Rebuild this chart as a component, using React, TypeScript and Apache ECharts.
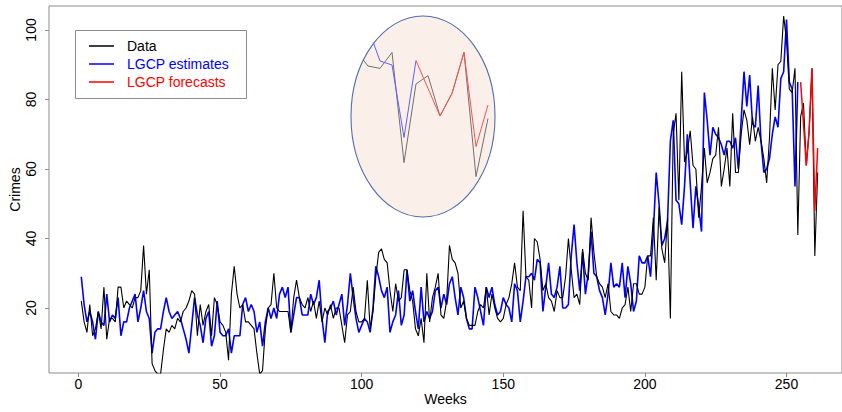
import React, { useEffect, useRef } from "react";
import * as echarts from "echarts";

// Weekly crime counts (weeks 1..261)
const dataValues = [
  22, 16, 13, 21, 12, 14, 19, 14, 26, 11,
  17, 17, 16, 26, 26, 20, 22, 21, 20, 23,
  23, 25, 38, 24, 31, 4, 2, 1, 1, 8,
  14, 13, 15, 14, 17, 16, 19, 20, 22, 25,
  24, 12, 21, 15, 19, 21, 12, 23, 21, 16,
  15, 13, 5, 24, 32, 24, 20, 21, 16, 16,
  15, 14, 7, 1, 2, 14, 20, 21, 30, 20,
  19, 19, 19, 19, 13, 23, 28, 23, 21, 20,
  23, 19, 22, 17, 22, 16, 20, 18, 21, 17,
  20, 20, 15, 10, 18, 19, 26, 19, 16, 16,
  17, 28, 14, 19, 29, 36, 37, 34, 33, 25,
  19, 27, 22, 23, 31, 31, 25, 22, 14, 12,
  17, 10, 30, 16, 23, 26, 30, 18, 17, 22,
  38, 34, 33, 30, 20, 22, 17, 15, 15, 15,
  19, 21, 20, 26, 18, 24, 20, 17, 16, 17,
  21, 23, 27, 33, 26, 25, 48, 29, 28, 20,
  40, 39, 34, 25, 27, 23, 22, 19, 25, 23,
  23, 29, 40, 31, 23, 24, 21, 37, 30, 28,
  46, 36, 29, 27, 26, 23, 27, 19, 18, 18,
  17, 20, 21, 26, 19, 27, 27, 24, 24, 26,
  35, 35, 46, 28, 49, 37, 33, 46, 17, 70,
  76, 51, 88, 62, 65, 71, 61, 60, 46, 55,
  66, 56, 59, 63, 64, 72, 55, 60, 66, 55,
  76, 59, 59, 70, 77, 74, 67, 75, 68, 72,
  68, 63, 56, 69, 89, 77, 90, 91, 104, 97,
  83, 82, 89, 41, 75, 79, 61, 71, 89, 35,
  59,
];

// LGCP estimates (weeks 1..255)
const estimateValues = [
  29, 21, 16, 19, 16, 11, 19, 16, 15, 24,
  16, 18, 17, 23, 12, 16, 16, 20, 22, 24,
  16, 20, 25, 19, 17, 7, 13, 14, 14, 19,
  23, 19, 17, 18, 19, 17, 14, 11, 7, 15,
  23, 18, 15, 10, 17, 19, 9, 12, 22, 13,
  12, 12, 14, 7, 12, 12, 12, 21, 23, 19,
  21, 19, 13, 16, 9, 16, 20, 17, 20, 17,
  24, 26, 23, 26, 13, 18, 23, 23, 18, 18,
  18, 24, 21, 23, 28, 17, 10, 19, 20, 22,
  18, 21, 24, 15, 21, 30, 23, 17, 13, 15,
  17, 16, 13, 20, 32, 29, 25, 23, 26, 13,
  16, 18, 25, 15, 18, 31, 22, 25, 19, 14,
  26, 16, 19, 17, 19, 25, 26, 20, 24, 21,
  27, 29, 23, 18, 26, 23, 17, 14, 14, 26,
  23, 19, 15, 26, 23, 26, 21, 18, 19, 23,
  21, 20, 16, 27, 25, 16, 22, 29, 29, 30,
  28, 34, 33, 19, 26, 33, 24, 23, 26, 32,
  20, 20, 21, 35, 44, 33, 25, 36, 24, 30,
  42, 30, 29, 25, 23, 18, 24, 33, 26, 27,
  26, 33, 23, 32, 27, 19, 22, 35, 33, 33,
  35, 29, 42, 59, 50, 38, 40, 45, 68, 74,
  51, 50, 44, 55, 70, 56, 43, 55, 49, 42,
  82, 74, 64, 72, 70, 69, 67, 64, 68, 68,
  66, 69, 60, 74, 88, 78, 87, 73, 72, 84,
  68, 59, 60, 63, 70, 75, 72, 86, 88, 103,
  85, 83, 55, 85,
];

// LGCP forecasts (weeks 255..261)
const forecastValues = [85, 73, 61, 71, 89, 48, 66];

const dataStartWeek = 1;
const estimateStartWeek = 1;
const forecastStartWeek = 255;

const xTickValues = [0, 50, 100, 150, 200, 250];
const yTickValues = [20, 40, 60, 80, 100];

// Zoomed inset (last weeks), in inset units
const insetData: [number, number][] = [
  [-0.39, 80], [0, 77], [1, 75.8], [2, 83.8], [3, 28.7], [4, 68],
  [5, 72.2], [6, 52], [7, 63.3], [8, 83.8], [9, 21.7], [10, 50.8],
];
const insetEstimates: [number, number][] = [
  [0.44, 88.8], [1, 79.5], [2, 77.5], [3, 41.3], [4, 79.7],
];
const insetForecasts: [number, number][] = [
  [4, 79.7], [5, 65.8], [6, 52], [7, 63.3], [8, 83.8], [9, 36.7], [10, 57.5],
];

const toPairs = (vals: number[], start: number) => vals.map((v, i) => [start + i, v]);

export default function App() {
  const ref = useRef<HTMLDivElement>(null);

  useEffect(() => {
    if (!ref.current) return;
    const chart = echarts.init(ref.current, null, { renderer: "svg" });
    const font = "'Liberation Sans', Arial, Helvetica, sans-serif";
    const axisGrey = "#8c8c8c";

    chart.setOption({
      animation: false,
      textStyle: { fontFamily: font },
      grid: [
        {
          left: 46, top: 6, width: 800, height: 367,
          show: true, borderColor: axisGrey, borderWidth: 1,
          backgroundColor: "transparent",
        },
        { left: 356, top: 20, width: 144, height: 200, show: false },
      ],
      xAxis: [
        {
          type: "value", gridIndex: 0, min: -10.4, max: 269.6,
          name: "Weeks", nameLocation: "middle", nameGap: 19, nameMoveOverlap: false,
          nameTextStyle: { fontSize: 14, color: "#000", fontFamily: font },
          axisLine: { show: false, onZero: false },
          splitLine: { show: false },
          axisTick: { show: true, length: 4, lineStyle: { color: axisGrey }, customValues: xTickValues },
          axisLabel: { customValues: xTickValues, fontSize: 14, color: "#000", margin: 4, fontFamily: font },
        },
        { type: "value", gridIndex: 1, min: -1, max: 11, show: false },
      ],
      yAxis: [
        {
          type: "value", gridIndex: 0, min: 1.3, max: 106.9,
          name: "Crimes", nameLocation: "middle", nameRotate: 90, nameGap: 27, nameMoveOverlap: false,
          nameTextStyle: { fontSize: 14, color: "#000", fontFamily: font },
          axisLine: { show: false, onZero: false },
          splitLine: { show: false },
          axisTick: { show: true, length: 4, lineStyle: { color: axisGrey }, customValues: yTickValues },
          axisLabel: { customValues: yTickValues, rotate: 90, fontSize: 14, color: "#000", margin: 11, fontFamily: font },
        },
        { type: "value", gridIndex: 1, min: 0, max: 100, show: false },
      ],
      legend: {
        data: [
          { name: "Data", textStyle: { color: "#000000" } },
          { name: "LGCP estimates", textStyle: { color: "#0000ff" } },
          { name: "LGCP forecasts", textStyle: { color: "#ff0000" } },
        ],
        orient: "vertical",
        left: 89, top: 37,
        padding: 0,
        itemWidth: 25, itemHeight: 1.5, itemGap: 0,
        icon: "rect",
        selectedMode: false,
        textStyle: { fontSize: 14, lineHeight: 18, fontFamily: font, padding: [0, 0, 0, 8] },
        z: 10,
      },
      graphic: [
        {
          type: "rect", z: 3,
          shape: { x: 75.5, y: 30.5, width: 171, height: 68 },
          style: { fill: "#ffffff", stroke: axisGrey, lineWidth: 1 },
        },
        {
          type: "ellipse", z: 1,
          shape: { cx: 423, cy: 116.5, rx: 72, ry: 100.5 },
          style: { fill: "#faf0e9", stroke: "#4f6ead", lineWidth: 1.1 },
        },
      ],
      series: [
        {
          name: "LGCP estimates", type: "line", xAxisIndex: 0, yAxisIndex: 0,
          data: toPairs(estimateValues, estimateStartWeek),
          symbol: "none", color: "#0000ff",
          lineStyle: { color: "#0000ff", width: 1.6 }, z: 3,
        },
        {
          name: "Data", type: "line", xAxisIndex: 0, yAxisIndex: 0,
          data: toPairs(dataValues, dataStartWeek),
          symbol: "none", color: "#000000",
          lineStyle: { color: "#000000", width: 1.1 }, z: 4,
        },
        {
          name: "LGCP forecasts", type: "line", xAxisIndex: 0, yAxisIndex: 0,
          data: toPairs(forecastValues, forecastStartWeek),
          symbol: "none", color: "#ff0000",
          lineStyle: { color: "#ff0000", width: 1.5 }, z: 5,
        },
        {
          name: "inset-data", type: "line", xAxisIndex: 1, yAxisIndex: 1,
          data: insetData, symbol: "none", silent: true,
          lineStyle: { color: "#707070", width: 1 }, z: 3,
        },
        {
          name: "inset-estimates", type: "line", xAxisIndex: 1, yAxisIndex: 1,
          data: insetEstimates, symbol: "none", silent: true,
          lineStyle: { color: "#6060ff", width: 1 }, z: 4,
        },
        {
          name: "inset-forecasts", type: "line", xAxisIndex: 1, yAxisIndex: 1,
          data: insetForecasts, symbol: "none", silent: true,
          lineStyle: { color: "#ff5050", width: 1 }, z: 5,
        },
      ],
    });

    return () => chart.dispose();
  }, []);

  return (
    <div
      ref={ref}
      style={{ position: "fixed", left: 0, top: 0, width: 842, height: 412, background: "#fff" }}
    />
  );
}
